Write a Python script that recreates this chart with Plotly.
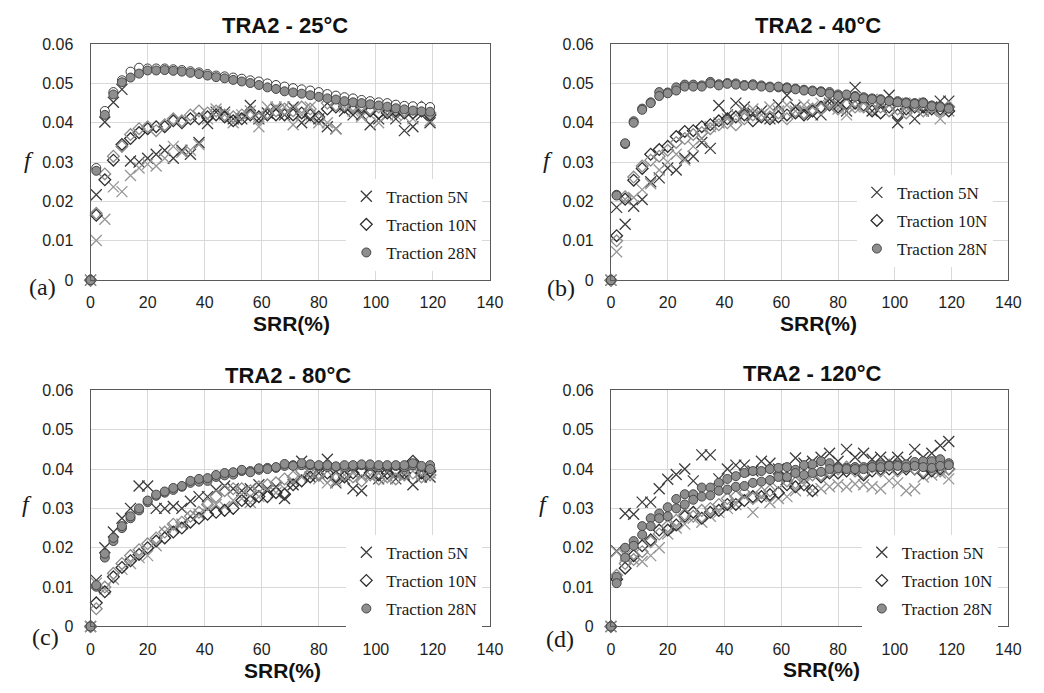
import plotly.graph_objects as go

# Slide-to-roll ratio (%) at which friction was sampled
SRR = [0, 2, 5, 8, 11, 14, 17, 20, 23, 26,
       29, 32, 35, 38, 41, 44, 47, 50, 53, 56,
       59, 62, 65, 68, 71, 74, 77, 80, 83, 86,
       89, 92, 95, 98, 101, 104, 107, 110, 113, 116,
       119]

LOADS = ["Traction 5N", "Traction 10N", "Traction 28N"]
TITLES = ["TRA2 - 25°C", "TRA2 - 40°C", "TRA2 - 80°C", "TRA2 - 120°C"]
TAGS = ["(a)", "(b)", "(c)", "(d)"]

# ---- 25 °C : friction coefficient, two runs per load ----
a_5n_1 = [0, 0.0217, 0.0402, 0.0452, 0.0485, 0.0303, 0.0300, 0.0310, 0.0320, 0.0330,
          0.0310, 0.0330, 0.0320, 0.0350, 0.0398, 0.0427, 0.0427, 0.0410, 0.0410, 0.0444,
          0.0410, 0.0425, 0.0435, 0.0420, 0.0440, 0.0400, 0.0410, 0.0410, 0.0390, 0.0385,
          0.0430, 0.0420, 0.0420, 0.0395, 0.0410, 0.0420, 0.0410, 0.0380, 0.0390, 0.0420,
          0.0400]
a_5n_2 = [0, 0.0101, 0.0155, 0.0237, 0.0225, 0.0266, 0.0285, 0.0295, 0.0290, 0.0310,
          0.0340, 0.0325, 0.0330, 0.0345, 0.0410, 0.0435, 0.0420, 0.0400, 0.0420, 0.0430,
          0.0390, 0.0440, 0.0440, 0.0440, 0.0395, 0.0420, 0.0440, 0.0400, 0.0400, 0.0385,
          0.0440, 0.0430, 0.0415, 0.0420, 0.0400, 0.0430, 0.0420, 0.0415, 0.0410, 0.0430,
          0.0405]
a_10n_1 = [0, 0.0165, 0.0255, 0.0305, 0.0345, 0.0360, 0.0375, 0.0385, 0.0390, 0.0390,
           0.0405, 0.0400, 0.0410, 0.0410, 0.0415, 0.0420, 0.0415, 0.0405, 0.0410, 0.0420,
           0.0415, 0.0420, 0.0420, 0.0420, 0.0420, 0.0425, 0.0420, 0.0415, 0.0435, 0.0440,
           0.0440, 0.0435, 0.0440, 0.0430, 0.0425, 0.0425, 0.0430, 0.0425, 0.0425, 0.0430,
           0.0420]
a_10n_2 = [0, 0.0170, 0.0270, 0.0315, 0.0340, 0.0370, 0.0385, 0.0390, 0.0380, 0.0395,
           0.0410, 0.0405, 0.0420, 0.0430, 0.0425, 0.0430, 0.0420, 0.0415, 0.0420, 0.0425,
           0.0410, 0.0425, 0.0430, 0.0435, 0.0430, 0.0440, 0.0435, 0.0410, 0.0450, 0.0445,
           0.0445, 0.0440, 0.0445, 0.0435, 0.0440, 0.0430, 0.0440, 0.0430, 0.0435, 0.0440,
           0.0425]
a_28n_1 = [0, 0.0278, 0.0420, 0.0472, 0.0503, 0.0515, 0.0525, 0.0533, 0.0533, 0.0534,
           0.0532, 0.0530, 0.0527, 0.0524, 0.0520, 0.0516, 0.0513, 0.0509, 0.0505, 0.0501,
           0.0496, 0.0490, 0.0486, 0.0480, 0.0477, 0.0474, 0.0470, 0.0466, 0.0462, 0.0459,
           0.0455, 0.0452, 0.0450, 0.0447, 0.0444, 0.0441, 0.0437, 0.0434, 0.0431, 0.0429,
           0.0428]
a_28n_2 = [0, 0.0285, 0.0430, 0.0478, 0.0508, 0.0530, 0.0540, 0.0538, 0.0538, 0.0538,
           0.0536, 0.0534, 0.0531, 0.0528, 0.0524, 0.0520, 0.0518, 0.0515, 0.0512, 0.0508,
           0.0505, 0.0500, 0.0496, 0.0492, 0.0488, 0.0485, 0.0482, 0.0478, 0.0473, 0.0469,
           0.0465, 0.0462, 0.0458, 0.0455, 0.0452, 0.0450, 0.0446, 0.0443, 0.0442, 0.0441,
           0.0440]

# ---- 40 °C ----
b_5n_1 = [0, 0.0185, 0.0142, 0.0188, 0.0205, 0.0250, 0.0260, 0.0285, 0.0280, 0.0310,
          0.0315, 0.0350, 0.0335, 0.0444, 0.0420, 0.0450, 0.0440, 0.0425, 0.0430, 0.0410,
          0.0445, 0.0470, 0.0440, 0.0430, 0.0420, 0.0420, 0.0450, 0.0445, 0.0430, 0.0490,
          0.0455, 0.0430, 0.0445, 0.0470, 0.0400, 0.0440, 0.0410, 0.0430, 0.0440, 0.0455,
          0.0455]
b_5n_2 = [0, 0.0072, 0.0205, 0.0210, 0.0230, 0.0245, 0.0280, 0.0300, 0.0320, 0.0305,
          0.0340, 0.0360, 0.0390, 0.0400, 0.0410, 0.0420, 0.0430, 0.0435, 0.0420, 0.0440,
          0.0430, 0.0445, 0.0430, 0.0445, 0.0440, 0.0450, 0.0440, 0.0435, 0.0420, 0.0440,
          0.0450, 0.0460, 0.0450, 0.0445, 0.0450, 0.0430, 0.0450, 0.0440, 0.0430, 0.0410,
          0.0430]
b_10n_1 = [0, 0.0113, 0.0206, 0.0254, 0.0284, 0.0320, 0.0332, 0.0340, 0.0365, 0.0378,
           0.0380, 0.0390, 0.0395, 0.0405, 0.0410, 0.0415, 0.0420, 0.0405, 0.0415, 0.0410,
           0.0415, 0.0420, 0.0425, 0.0420, 0.0430, 0.0440, 0.0445, 0.0440, 0.0450, 0.0450,
           0.0445, 0.0430, 0.0425, 0.0440, 0.0420, 0.0435, 0.0440, 0.0440, 0.0435, 0.0435,
           0.0430]
b_10n_2 = [0, 0.0100, 0.0212, 0.0262, 0.0290, 0.0305, 0.0315, 0.0330, 0.0350, 0.0360,
           0.0370, 0.0375, 0.0385, 0.0395, 0.0400, 0.0395, 0.0410, 0.0420, 0.0420, 0.0415,
           0.0425, 0.0410, 0.0430, 0.0425, 0.0435, 0.0435, 0.0450, 0.0435, 0.0445, 0.0440,
           0.0440, 0.0435, 0.0440, 0.0430, 0.0435, 0.0425, 0.0445, 0.0430, 0.0440, 0.0430,
           0.0440]
b_28n_1 = [0, 0.0217, 0.0346, 0.0404, 0.0436, 0.0452, 0.0478, 0.0477, 0.0490, 0.0497,
           0.0497, 0.0495, 0.0504, 0.0498, 0.0501, 0.0500, 0.0496, 0.0498, 0.0495, 0.0492,
           0.0490, 0.0490, 0.0487, 0.0484, 0.0482, 0.0480, 0.0478, 0.0472, 0.0470, 0.0468,
           0.0465, 0.0462, 0.0460, 0.0456, 0.0455, 0.0452, 0.0450, 0.0452, 0.0444, 0.0442,
           0.0438]
b_28n_2 = [0, 0.0215, 0.0348, 0.0400, 0.0433, 0.0450, 0.0468, 0.0475, 0.0482, 0.0492,
           0.0492, 0.0492, 0.0500, 0.0495, 0.0499, 0.0497, 0.0494, 0.0495, 0.0492, 0.0490,
           0.0492, 0.0488, 0.0485, 0.0482, 0.0480, 0.0478, 0.0474, 0.0468, 0.0472, 0.0466,
           0.0462, 0.0460, 0.0458, 0.0455, 0.0452, 0.0450, 0.0448, 0.0450, 0.0442, 0.0440,
           0.0436]

# ---- 80 °C ----
c_5n_1 = [0, 0.0117, 0.0200, 0.0240, 0.0275, 0.0300, 0.0357, 0.0357, 0.0300, 0.0300,
          0.0305, 0.0300, 0.0318, 0.0330, 0.0330, 0.0347, 0.0357, 0.0350, 0.0345, 0.0350,
          0.0360, 0.0350, 0.0355, 0.0325, 0.0360, 0.0420, 0.0380, 0.0390, 0.0425, 0.0365,
          0.0375, 0.0350, 0.0345, 0.0400, 0.0375, 0.0390, 0.0375, 0.0385, 0.0360, 0.0380,
          0.0380]
c_5n_2 = [0, 0.0110, 0.0095, 0.0120, 0.0145, 0.0160, 0.0175, 0.0180, 0.0205, 0.0240,
          0.0250, 0.0260, 0.0280, 0.0285, 0.0300, 0.0310, 0.0305, 0.0320, 0.0325, 0.0315,
          0.0330, 0.0345, 0.0340, 0.0350, 0.0370, 0.0380, 0.0390, 0.0375, 0.0365, 0.0370,
          0.0385, 0.0390, 0.0380, 0.0385, 0.0390, 0.0375, 0.0385, 0.0390, 0.0395, 0.0385,
          0.0390]
c_10n_1 = [0, 0.0060, 0.0088, 0.0126, 0.0150, 0.0167, 0.0183, 0.0200, 0.0217, 0.0225,
           0.0240, 0.0250, 0.0265, 0.0275, 0.0285, 0.0290, 0.0295, 0.0300, 0.0320, 0.0318,
           0.0330, 0.0330, 0.0340, 0.0336, 0.0360, 0.0370, 0.0380, 0.0385, 0.0390, 0.0380,
           0.0380, 0.0390, 0.0395, 0.0390, 0.0385, 0.0390, 0.0395, 0.0390, 0.0420, 0.0390,
           0.0395]
c_10n_2 = [0, 0.0045, 0.0100, 0.0135, 0.0160, 0.0180, 0.0195, 0.0210, 0.0225, 0.0240,
           0.0260, 0.0265, 0.0280, 0.0290, 0.0310, 0.0330, 0.0345, 0.0350, 0.0350, 0.0345,
           0.0355, 0.0360, 0.0365, 0.0375, 0.0380, 0.0395, 0.0390, 0.0385, 0.0380, 0.0375,
           0.0385, 0.0380, 0.0370, 0.0385, 0.0375, 0.0380, 0.0375, 0.0385, 0.0390, 0.0380,
           0.0385]
c_28n_1 = [0, 0.0101, 0.0175, 0.0217, 0.0250, 0.0275, 0.0295, 0.0316, 0.0332, 0.0340,
           0.0347, 0.0355, 0.0365, 0.0368, 0.0370, 0.0380, 0.0384, 0.0386, 0.0395, 0.0395,
           0.0398, 0.0403, 0.0403, 0.0408, 0.0410, 0.0410, 0.0410, 0.0408, 0.0405, 0.0405,
           0.0405, 0.0407, 0.0410, 0.0408, 0.0405, 0.0407, 0.0408, 0.0405, 0.0410, 0.0405,
           0.0410]
c_28n_2 = [0, 0.0105, 0.0185, 0.0225, 0.0255, 0.0280, 0.0300, 0.0320, 0.0335, 0.0343,
           0.0352, 0.0357, 0.0370, 0.0375, 0.0377, 0.0385, 0.0390, 0.0392, 0.0398, 0.0392,
           0.0402, 0.0400, 0.0405, 0.0413, 0.0408, 0.0415, 0.0412, 0.0410, 0.0410, 0.0407,
           0.0410, 0.0410, 0.0412, 0.0412, 0.0410, 0.0410, 0.0410, 0.0410, 0.0415, 0.0408,
           0.0400]

# ---- 120 °C ----
d_5n_1 = [0, 0.0192, 0.0287, 0.0285, 0.0316, 0.0316, 0.0350, 0.0374, 0.0386, 0.0400,
          0.0370, 0.0436, 0.0436, 0.0375, 0.0400, 0.0410, 0.0410, 0.0395, 0.0420, 0.0415,
          0.0400, 0.0380, 0.0428, 0.0415, 0.0420, 0.0430, 0.0440, 0.0420, 0.0450, 0.0430,
          0.0440, 0.0425, 0.0430, 0.0420, 0.0430, 0.0420, 0.0450, 0.0430, 0.0440, 0.0460,
          0.0470]
d_5n_2 = [0, 0.0190, 0.0180, 0.0170, 0.0165, 0.0180, 0.0200, 0.0235, 0.0250, 0.0260,
          0.0275, 0.0265, 0.0280, 0.0290, 0.0300, 0.0310, 0.0330, 0.0290, 0.0330, 0.0315,
          0.0325, 0.0330, 0.0345, 0.0360, 0.0345, 0.0350, 0.0355, 0.0360, 0.0355, 0.0362,
          0.0360, 0.0355, 0.0350, 0.0370, 0.0365, 0.0345, 0.0350, 0.0380, 0.0385, 0.0390,
          0.0375]
d_10n_1 = [0, 0.0120, 0.0148, 0.0180, 0.0205, 0.0220, 0.0245, 0.0245, 0.0258, 0.0280,
           0.0290, 0.0275, 0.0290, 0.0295, 0.0310, 0.0310, 0.0320, 0.0330, 0.0330, 0.0335,
           0.0340, 0.0360, 0.0355, 0.0360, 0.0345, 0.0380, 0.0390, 0.0390, 0.0395, 0.0400,
           0.0385, 0.0395, 0.0400, 0.0400, 0.0400, 0.0400, 0.0400, 0.0390, 0.0395, 0.0400,
           0.0400]
d_10n_2 = [0, 0.0130, 0.0160, 0.0170, 0.0190, 0.0215, 0.0235, 0.0255, 0.0270, 0.0285,
           0.0280, 0.0295, 0.0300, 0.0310, 0.0325, 0.0330, 0.0340, 0.0325, 0.0340, 0.0345,
           0.0365, 0.0370, 0.0365, 0.0380, 0.0385, 0.0385, 0.0395, 0.0400, 0.0405, 0.0395,
           0.0390, 0.0405, 0.0395, 0.0410, 0.0395, 0.0405, 0.0400, 0.0410, 0.0405, 0.0395,
           0.0400]
d_28n_1 = [0, 0.0126, 0.0200, 0.0217, 0.0255, 0.0275, 0.0287, 0.0303, 0.0324, 0.0336,
           0.0336, 0.0353, 0.0353, 0.0365, 0.0375, 0.0382, 0.0390, 0.0395, 0.0395, 0.0400,
           0.0403, 0.0405, 0.0398, 0.0410, 0.0412, 0.0420, 0.0415, 0.0405, 0.0403, 0.0405,
           0.0405, 0.0410, 0.0412, 0.0410, 0.0412, 0.0412, 0.0418, 0.0420, 0.0420, 0.0425,
           0.0415]
d_28n_2 = [0, 0.0110, 0.0175, 0.0205, 0.0233, 0.0255, 0.0275, 0.0280, 0.0300, 0.0310,
           0.0322, 0.0330, 0.0333, 0.0345, 0.0348, 0.0355, 0.0357, 0.0365, 0.0368, 0.0372,
           0.0380, 0.0380, 0.0390, 0.0385, 0.0390, 0.0393, 0.0400, 0.0402, 0.0400, 0.0400,
           0.0400, 0.0405, 0.0405, 0.0408, 0.0408, 0.0405, 0.0408, 0.0405, 0.0403, 0.0408,
           0.0410]

RUNS = [
    [(a_5n_1, a_5n_2), (a_10n_1, a_10n_2), (a_28n_1, a_28n_2)],
    [(b_5n_1, b_5n_2), (b_10n_1, b_10n_2), (b_28n_1, b_28n_2)],
    [(c_5n_1, c_5n_2), (c_10n_1, c_10n_2), (c_28n_1, c_28n_2)],
    [(d_5n_1, d_5n_2), (d_10n_1, d_10n_2), (d_28n_1, d_28n_2)],
]

W, H = 1044, 693


def fx(p):
    return p / W


def fy(p):
    return 1 - p / H


# plot boxes in pixels: (left, right, top, bottom)
BOXES = [(88, 494, 37, 279), (617, 1021, 37, 279),
         (88, 494, 392, 634), (617, 1021, 392, 634)]
TITLE_POS = [(286, 18), (827, 18), (289, 377), (822, 375)]
XLAB_POS = [(292, 323), (828, 323), (283, 679), (831, 678)]
F_POS = [(25, 156), (553, 156), (23, 508), (549, 508)]
TAG_POS = [(39, 286), (566, 287), (42, 645), (565, 647)]
LEG_POS = [(348, 175), (867, 171), (348, 540), (872, 540)]

SANS = "Liberation Sans"
SERIF = "Liberation Serif"


def marker_style(load, run, panel):
    if load == 0:
        col = "#3c3c3c" if run == 0 else "#969696"
        return dict(symbol="x-thin-open", size=11, color=col,
                    line=dict(color=col, width=1.3))
    if load == 1:
        col = "#2e2e2e" if run == 0 else "#8c8c8c"
        return dict(symbol="diamond-open", size=9, color=col,
                    line=dict(color=col, width=1.3))
    if panel == 0 and run == 1:
        return dict(symbol="circle", size=9, color="white",
                    line=dict(color="#3a3a3a", width=1))
    return dict(symbol="circle", size=9, color="#8e8e8e",
                line=dict(color="#474747", width=1))


fig = go.Figure()
layout = {}
annotations = []

for p in range(4):
    sfx = "" if p == 0 else str(p + 1)
    leg = "legend" + sfx
    for load in range(3):
        order = (1, 0) if (p == 0 and load == 2) else (0, 1)
        for run in order:
            fig.add_trace(go.Scatter(
                x=SRR, y=RUNS[p][load][run], mode="markers",
                marker=marker_style(load, run, p),
                name=LOADS[load], legendgroup=f"{p}-{load}",
                showlegend=(run == 0), legend=leg,
                xaxis="x" + sfx, yaxis="y" + sfx, cliponaxis=False,
                hoverinfo="skip"))

    l, r, t, b = BOXES[p]
    layout["xaxis" + sfx] = dict(
        domain=[fx(l), fx(r)], anchor="y" + sfx, range=[0, 140],
        tick0=0, dtick=20, showgrid=True, gridcolor="#d9d9d9", gridwidth=1,
        showline=True, linecolor="#5a5a5a", linewidth=1, mirror=True,
        zeroline=False, ticks="", ticklabelstandoff=8,
        tickfont=dict(family=SANS, size=16, color="#1e1e1e"))
    layout["yaxis" + sfx] = dict(
        domain=[fy(b), fy(t)], anchor="x" + sfx, range=[0, 0.06],
        tick0=0, dtick=0.01, showgrid=True, gridcolor="#d9d9d9", gridwidth=1,
        showline=True, linecolor="#5a5a5a", linewidth=1, mirror=True,
        zeroline=False, ticks="", ticklabelstandoff=13,
        tickfont=dict(family=SANS, size=16, color="#1e1e1e"))

    lx, ly = LEG_POS[p]
    layout[leg] = dict(
        x=fx(lx), y=fy(ly), xanchor="left", yanchor="top",
        bgcolor="white", borderwidth=0, tracegroupgap=3,
        traceorder="grouped", itemwidth=30,
        font=dict(family=SERIF, size=17, color="#1a1a1a"))

    tx, ty = TITLE_POS[p]
    annotations.append(dict(text=f"<b>{TITLES[p]}</b>", x=fx(tx), y=fy(ty),
                            xref="paper", yref="paper", showarrow=False,
                            xanchor="center", yanchor="middle",
                            font=dict(family=SANS, size=22, color="#111111")))
    sx, sy = XLAB_POS[p]
    annotations.append(dict(text="<b>SRR(%)</b>", x=fx(sx), y=fy(sy),
                            xref="paper", yref="paper", showarrow=False,
                            xanchor="center", yanchor="middle",
                            font=dict(family=SANS, size=21, color="#111111")))
    ffx, ffy = F_POS[p]
    annotations.append(dict(text="<i>f</i>", x=fx(ffx), y=fy(ffy),
                            xref="paper", yref="paper", showarrow=False,
                            xanchor="center", yanchor="middle",
                            font=dict(family=SERIF, size=24, color="#1a1a1a")))
    gx, gy = TAG_POS[p]
    annotations.append(dict(text=TAGS[p], x=fx(gx), y=fy(gy),
                            xref="paper", yref="paper", showarrow=False,
                            xanchor="center", yanchor="middle",
                            font=dict(family=SERIF, size=24, color="#1a1a1a")))

fig.update_layout(
    width=W, height=H, margin=dict(l=0, r=0, t=0, b=0),
    paper_bgcolor="white", plot_bgcolor="white",
    annotations=annotations, **layout)

fig.write_html("out.html")
